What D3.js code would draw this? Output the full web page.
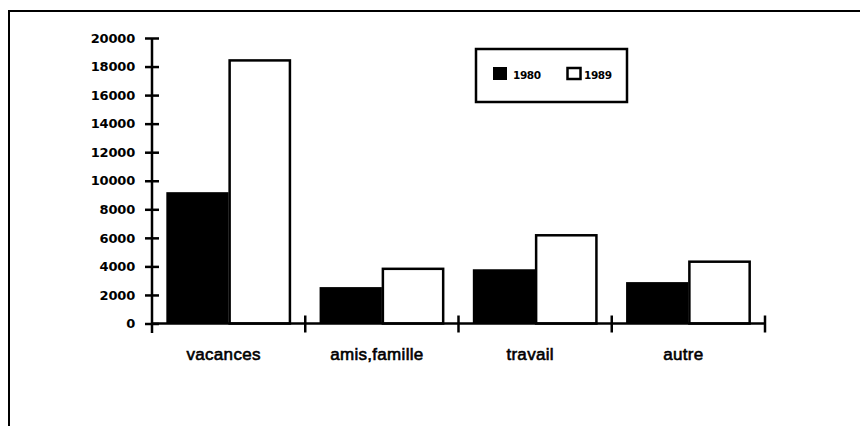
<!DOCTYPE html>
<html><head><meta charset="utf-8">
<script src="https://cdn.jsdelivr.net/npm/d3@7"></script>
<style>
body{margin:0;background:#fff;}
svg{display:block;}
text{font-family:"Liberation Sans",Arial,sans-serif;fill:#000;}
</style></head>
<body>
<svg id="c" width="860" height="426"></svg>
<script>
const categories = ["vacances", "amis,famille", "travail", "autre"];
const series = ["1980", "1989"];
const values1980 = [9200, 2550, 3800, 2900];
const values1989 = [18500, 3900, 6250, 4400];
const yTicks = [0, 2000, 4000, 6000, 8000, 10000, 12000, 14000, 16000, 18000, 20000];

const svg = d3.select("#c");
// frame
svg.append("path").attr("d", "M9,432 V11 H862").attr("fill", "none").attr("stroke", "#000").attr("stroke-width", 2);

const x = d3.scaleBand().domain(categories).range([152, 765]).padding(0);
const xi = d3.scaleBand().domain(series).range([0, x.bandwidth()]).paddingInner(0).paddingOuter(0.23);
const y = d3.scaleLinear().domain([0, 20000]).range([323.5, 38]);

const rows = categories.map((c, i) => ({cat: c, vals: [values1980[i], values1989[i]]}));

const g = svg.append("g");
rows.forEach(r => {
  r.vals.forEach((v, j) => {
    const s = series[j];
    if (j === 0) {
      g.append("rect").attr("x", x(r.cat) + xi(s)).attr("y", y(v))
        .attr("width", xi.bandwidth()).attr("height", y(0) - y(v)).attr("fill", "#000");
    } else {
      g.append("rect").attr("x", x(r.cat) + xi(s) + 1).attr("y", y(v) + 1)
        .attr("width", xi.bandwidth() - 2).attr("height", y(0) - y(v) - 1)
        .attr("fill", "#fff").attr("stroke", "#000").attr("stroke-width", 2.5);
    }
  });
});

// y axis
const ya = svg.append("g").attr("transform", "translate(152,0)")
  .call(d3.axisLeft(y).tickValues(yTicks).tickSize(7).tickPadding(10).tickFormat(d3.format("d")));
ya.select(".domain").remove();
ya.append("line").attr("x1", 0).attr("x2", 0).attr("y1", y(20000)).attr("y2", 333).attr("stroke", "#000").attr("stroke-width", 2.5);
ya.selectAll(".tick line").attr("x1", 7).attr("x2", -7).attr("stroke-width", 2.5);
ya.selectAll(".tick text").attr("font-size", 13).attr("font-weight", "bold")
  .style("font-family", "'DejaVu Sans',sans-serif").style("letter-spacing", "-0.2px");

// x axis
const xa = svg.append("g").attr("transform", `translate(0,${y(0)})`);
xa.append("line").attr("x1", 152).attr("x2", 765).attr("stroke", "#000").attr("stroke-width", 2.5);
const bounds = categories.map(c => x(c)).concat([x.range()[1]]);
xa.selectAll("line.tk").data(bounds.slice(1)).join("line").attr("class", "tk")
  .attr("x1", d => d).attr("x2", d => d).attr("y1", -8).attr("y2", 9)
  .attr("stroke", "#000").attr("stroke-width", 2.5);
xa.selectAll("text").data(categories).join("text")
  .attr("x", d => x(d) + x.bandwidth() / 2 - 5).attr("y", 36.5)
  .attr("text-anchor", "middle").attr("font-size", 17).style("letter-spacing", "0.3px")
  .attr("stroke", "#000").attr("stroke-width", 0.6)
  .text(d => d);

// legend
const lg = svg.append("g");
lg.append("rect").attr("x", 476).attr("y", 49).attr("width", 151).attr("height", 53)
  .attr("fill", "#fff").attr("stroke", "#000").attr("stroke-width", 2.5);
lg.append("rect").attr("x", 493).attr("y", 67).attr("width", 14).attr("height", 13).attr("fill", "#000");
lg.append("text").attr("x", 513).attr("y", 78.5).attr("font-size", 10.5).attr("font-weight", "bold")
  .style("font-family", "'DejaVu Sans',sans-serif").style("letter-spacing", "-0.4px").text(series[0]);
lg.append("rect").attr("x", 567.5).attr("y", 68).attr("width", 13).attr("height", 11).attr("fill", "#fff").attr("stroke", "#000").attr("stroke-width", 2.5);
lg.append("text").attr("x", 584).attr("y", 78.5).attr("font-size", 10.5).attr("font-weight", "bold")
  .style("font-family", "'DejaVu Sans',sans-serif").style("letter-spacing", "-0.4px").text(series[1]);
</script>
</body></html>
